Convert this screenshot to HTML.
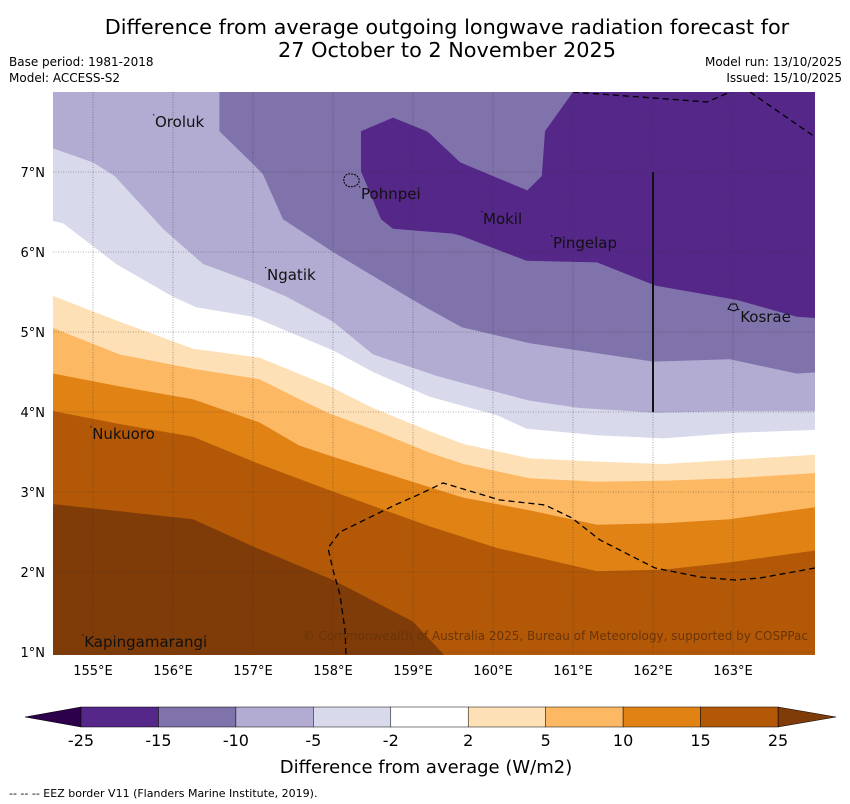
<!DOCTYPE html>
<html><head><meta charset="utf-8"><style>
body{margin:0;background:#fff;}
svg{display:block;font-family:"DejaVu Sans","Liberation Sans",sans-serif;}
</style></head><body>
<svg id="chart" width="850" height="804" viewBox="0 0 850 804" xmlns="http://www.w3.org/2000/svg">
<text x="447" y="34" font-size="20.8" text-anchor="middle">Difference from average outgoing longwave radiation forecast for</text>
<text x="447" y="57" font-size="20.8" text-anchor="middle">27 October to 2 November 2025</text>
<text x="9" y="66" font-size="12">Base period: 1981-2018</text>
<text x="9" y="82" font-size="12">Model: ACCESS-S2</text>
<text x="842" y="66" font-size="12" text-anchor="end">Model run: 13/10/2025</text>
<text x="842" y="82" font-size="12" text-anchor="end">Issued: 15/10/2025</text>
<defs><clipPath id="plotclip"><rect x="53" y="92" width="762" height="563"/></clipPath></defs>
<g id="bands" clip-path="url(#plotclip)"></g>
<g id="overlay" clip-path="url(#plotclip)"></g>
<g id="axes"></g>
<g id="cbar"></g>
<text x="426" y="773" font-size="18" text-anchor="middle">Difference from average (W/m2)</text>
<text x="9" y="797" font-size="11">--  --  -- EEZ border V11 (Flanders Marine Institute, 2019).</text>
</svg>
<script>
// ---- data ----
const lonTicks = [155,156,157,158,159,160,161,162,163];
const latTicks = [1,2,3,4,5,6,7];
const bandLevels = [-25,-15,-10,-5,-2,2,5,10,15,25];
const bandColors = ["#542788","#8073ac","#b2abd2","#d8daeb","#ffffff","#fee0b6","#fdb863","#e08214","#b35806"];
// contours as [lon, lat]
const contourM15 = [[161.0,8],[160.65,7.51],[160.61,6.95],[160.43,6.77],[159.59,7.12],[159.21,7.48],[159.17,7.51],[158.75,7.68],[158.35,7.51],[158.35,7.01],[158.6,6.41],[158.75,6.29],[159.5,6.23],[159.61,6.2],[160.42,5.89],[161.3,5.87],[162.03,5.58],[163.05,5.4],[163.8,5.19],[164.1,5.17],[164.1,8]];
const contourM10 = [[156.58,8.1],[156.58,7.51],[157.0,7.1],[157.125,6.97],[157.375,6.41],[158.0,6.0],[159.0,5.4],[159.21,5.28],[159.61,5.06],[160.46,4.86],[162.0,4.63],[162.96,4.66],[163.8,4.48],[164.1,4.5]];
const contourM5 = [[154.4,7.33],[155.0,7.12],[155.27,6.95],[155.875,6.29],[156.375,5.85],[157.0,5.62],[157.42,5.44],[158.0,5.13],[158.5,4.72],[159.3,4.45],[159.63,4.36],[160.46,4.14],[161.09,4.05],[162.03,3.99],[162.96,4.01],[164.1,4.01]];
const contourM2 = [[154.4,6.41],[154.625,6.36],[155.29,5.85],[156.0,5.44],[156.29,5.31],[157.0,5.19],[158.0,4.77],[158.5,4.5],[159.21,4.19],[160.05,3.96],[160.42,3.79],[161.3,3.71],[162.13,3.67],[163.05,3.74],[164.1,3.78]];
const contourP2 = [[154.4,5.49],[155.33,5.13],[156.25,4.79],[157.08,4.68],[157.96,4.32],[158.5,4.05],[159.21,3.76],[159.63,3.6],[160.46,3.42],[161.3,3.38],[162.13,3.35],[162.96,3.4],[164.1,3.47]];
const contourP5 = [[154.4,5.09],[155.33,4.72],[156.25,4.54],[157.08,4.41],[157.58,4.16],[157.96,3.98],[158.5,3.78],[159.21,3.49],[159.63,3.35],[160.46,3.17],[161.3,3.13],[162.13,3.14],[162.96,3.17],[164.1,3.24]];
const contourP10 = [[154.4,4.5],[155.33,4.32],[156.25,4.16],[157.08,3.87],[157.58,3.58],[158.0,3.44],[159.21,3.06],[159.63,2.93],[160.46,2.77],[161.3,2.59],[162.13,2.61],[162.96,2.66],[164.1,2.82]];
const contourP15 = [[154.4,4.03],[155.33,3.85],[156.25,3.69],[157.08,3.35],[157.96,3.02],[159.21,2.57],[160.05,2.3],[161.3,2.01],[162.13,2.03],[162.96,2.12],[164.1,2.28]];
const contourP25 = [[154.4,2.86],[156.25,2.66],[157.0,2.32],[158.0,1.9],[159.0,1.38],[159.375,0.98],[159.45,0.9]];
const islandNames = ["Oroluk","Pohnpei","Mokil","Pingelap","Ngatik","Kosrae","Nukuoro","Kapingamarangi"];
const islandLon = [155.775,158.35,159.875,160.75,157.175,163.09,154.99,154.89];
const islandLat = [7.56,6.66,6.35,6.05,5.65,5.125,3.66,1.06];

// ---- axes functions ----
const X0=53, Y0=92, W=762, H=563;
const lonMin=154.5, lonMax=164.025, latMin=0.9625, latMax=8.0;
const xs = lon => X0 + (lon-lonMin)/(lonMax-lonMin)*W;
const ys = lat => Y0 + (latMax-lat)/(latMax-latMin)*H;
const NS="http://www.w3.org/2000/svg";
function mk(tag, attrs, parent){const e=document.createElementNS(NS,tag);for(const k in attrs)e.setAttribute(k,attrs[k]);parent.appendChild(e);return e;}
const pts = arr => arr.map(p=>xs(p[0]).toFixed(1)+","+ys(p[1]).toFixed(1)).join(" ");
const bottomClose = arr => pts(arr)+" "+xs(164.2)+","+ys(0.5)+" "+xs(154.4)+","+ys(0.5)+" "+xs(154.4)+","+ys(8.2);

const bands=document.getElementById('bands');
let r=mk('rect',{x:X0,y:Y0,width:W,height:H,fill:bandColors[1]},bands);


const seq=[[contourM10,2,'band-minus10-to-minus5'],[contourM5,3,'band-minus5-to-minus2'],[contourM2,4,'band-minus2-to-2'],[contourP2,5,'band-2-to-5'],[contourP5,6,'band-5-to-10'],[contourP10,7,'band-10-to-15'],[contourP15,8,'band-15-to-25']];
seq.forEach(s=>{
  const p=mk('polygon',{points:bottomClose(s[0]),fill:bandColors[s[1]]},bands);
  
  
});
let p25=mk('polygon',{points:pts(contourP25)+" "+xs(154.4)+","+ys(0.5),fill:"#7f3b08"},bands);


let pm15=mk('polygon',{points:pts(contourM15),fill:bandColors[0]},bands);



const ov=document.getElementById('overlay');
lonTicks.forEach(l=>{const g=mk('line',{x1:xs(l),x2:xs(l),y1:Y0,y2:Y0+H,stroke:"#333","stroke-width":0.6,"stroke-dasharray":"1,1.5",opacity:0.7},ov);

});
latTicks.forEach(l=>{const g=mk('line',{x1:X0,x2:X0+W,y1:ys(l),y2:ys(l),stroke:"#333","stroke-width":0.6,"stroke-dasharray":"1,1.5",opacity:0.7},ov);

});
let e1=mk('polyline',{points:"573,92 707,102 735,90 750,92 815,137",fill:"none",stroke:"#000","stroke-width":1.3,"stroke-dasharray":"6,4"},ov);


let e2=mk('polyline',{points:"815,568 760,578 735,580 700,577 655,568 600,540 572,518 545,505 500,500 443,483 420,494 395,505 340,532 328,548 333,570 340,595 345,630 346,655",fill:"none",stroke:"#000","stroke-width":1.3,"stroke-dasharray":"6,4"},ov);


let vl=mk('line',{x1:xs(162),x2:xs(162),y1:ys(7),y2:ys(4),stroke:"#111","stroke-width":2},ov);


let poh=mk('path',{d:"M344,178 q2,-5 7,-4 q6,0 8,5 q1,5 -4,7 q-6,2 -9,-1 q-3,-3 -2,-7z",fill:"none",stroke:"#000","stroke-width":1,"stroke-dasharray":"2,1"},ov);


let kos=mk('path',{d:"M728,309 l3,-5 l5,0 l2,5 l-4,2z",fill:"none",stroke:"#000","stroke-width":1},ov);


islandNames.forEach((n,i)=>{
  const t=mk('text',{x:xs(islandLon[i]),y:ys(islandLat[i]),"font-size":15,fill:"#111"},ov);
  t.textContent=n;
  
  
  const d=mk('rect',{x:xs(islandLon[i])-2,y:ys(islandLat[i])-13,width:1.2,height:1.2,fill:"#111"},ov);
  
  
});
let cp=mk('text',{x:808,y:640,"font-size":12,fill:"#6b3407","text-anchor":"end"},ov);
cp.textContent="\u00A9 Commonwealth of Australia 2025, Bureau of Meteorology, supported by COSPPac";



const ax=document.getElementById('axes');
lonTicks.forEach(l=>{const t=mk('text',{x:xs(l),y:675,"font-size":13,"text-anchor":"middle"},ax);t.textContent=l+"°E";

});
latTicks.forEach(l=>{const t=mk('text',{x:45,y:ys(l)+5,"font-size":13,"text-anchor":"end"},ax);t.textContent=l+"°N";

});

const cb=document.getElementById('cbar');
const cbX0=81, cbX1=778, cbY=707, cbH=20, segW=(cbX1-cbX0)/bandColors.length;
let lt=mk('polygon',{points:`${cbX0},${cbY} 25,${cbY+cbH/2} ${cbX0},${cbY+cbH}`,fill:"#2d004b",stroke:"#000","stroke-width":0.5},cb);


let rt=mk('polygon',{points:`${cbX1},${cbY} 836,${cbY+cbH/2} ${cbX1},${cbY+cbH}`,fill:"#7f3b08",stroke:"#000","stroke-width":0.5},cb);


bandColors.forEach((c,i)=>{const s=mk('rect',{x:cbX0+i*segW,y:cbY,width:segW,height:cbH,fill:c,stroke:"#000","stroke-width":0.5},cb);

});
bandLevels.forEach((v,i)=>{const t=mk('text',{x:cbX0+i*segW,y:746,"font-size":16,"text-anchor":"middle"},cb);t.textContent=v;

});
</script>
</body></html>
